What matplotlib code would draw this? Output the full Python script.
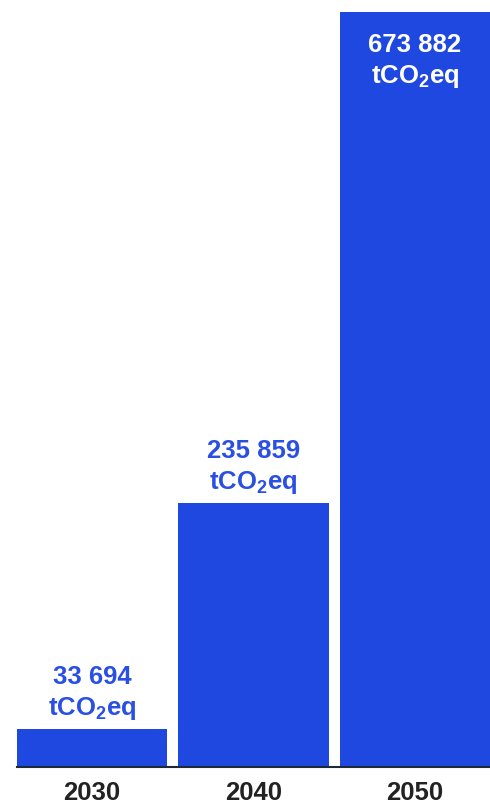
import matplotlib.pyplot as plt

plt.rcParams['font.family'] = ['Liberation Sans', 'DejaVu Sans']
plt.rcParams['mathtext.fontset'] = 'custom'
plt.rcParams['mathtext.rm'] = 'Liberation Sans:bold'
plt.rcParams['mathtext.default'] = 'rm'

years = ['2030', '2040', '2050']
values = [33694, 235859, 673882]
labels = ['33 694', '235 859', '673 882']

bar_color = '#1f48e0'
text_blue = '#2a4fe3'

fig = plt.figure(figsize=(4.9, 8.06), dpi=100)
ax = fig.add_axes([17 / 490, 39 / 806, 473 / 490, 767 / 806])

x = range(len(years))
bars = ax.bar(x, values, width=0.932, color=bar_color)

ax.set_xlim(-0.466, 2.466)
ax.set_ylim(0, 673882 * 767 / 755)

for i, (v, lab) in enumerate(zip(values, labels)):
    txt = lab + '\ntCO$_2$eq'
    if i == len(values) - 1:
        ax.annotate(txt, (i, v), xytext=(0, -15), textcoords='offset points',
                    ha='center', va='top', color='white', fontsize=18.5,
                    fontweight='bold', linespacing=1.3)
    else:
        ax.annotate(txt, (i, v), xytext=(0, 5), textcoords='offset points',
                    ha='center', va='bottom', color=text_blue, fontsize=18.5,
                    fontweight='bold', linespacing=1.3)

ax.set_xticks(list(x))
ax.set_xticklabels(years, fontsize=18.5, fontweight='bold', color='#222222')
ax.tick_params(axis='x', length=0, pad=10)
ax.set_yticks([])
for s in ['top', 'right', 'left']:
    ax.spines[s].set_visible(False)
ax.spines['bottom'].set_color('#1c2a3a')
ax.spines['bottom'].set_linewidth(1.5)

fig.savefig('out.png', dpi=100)
